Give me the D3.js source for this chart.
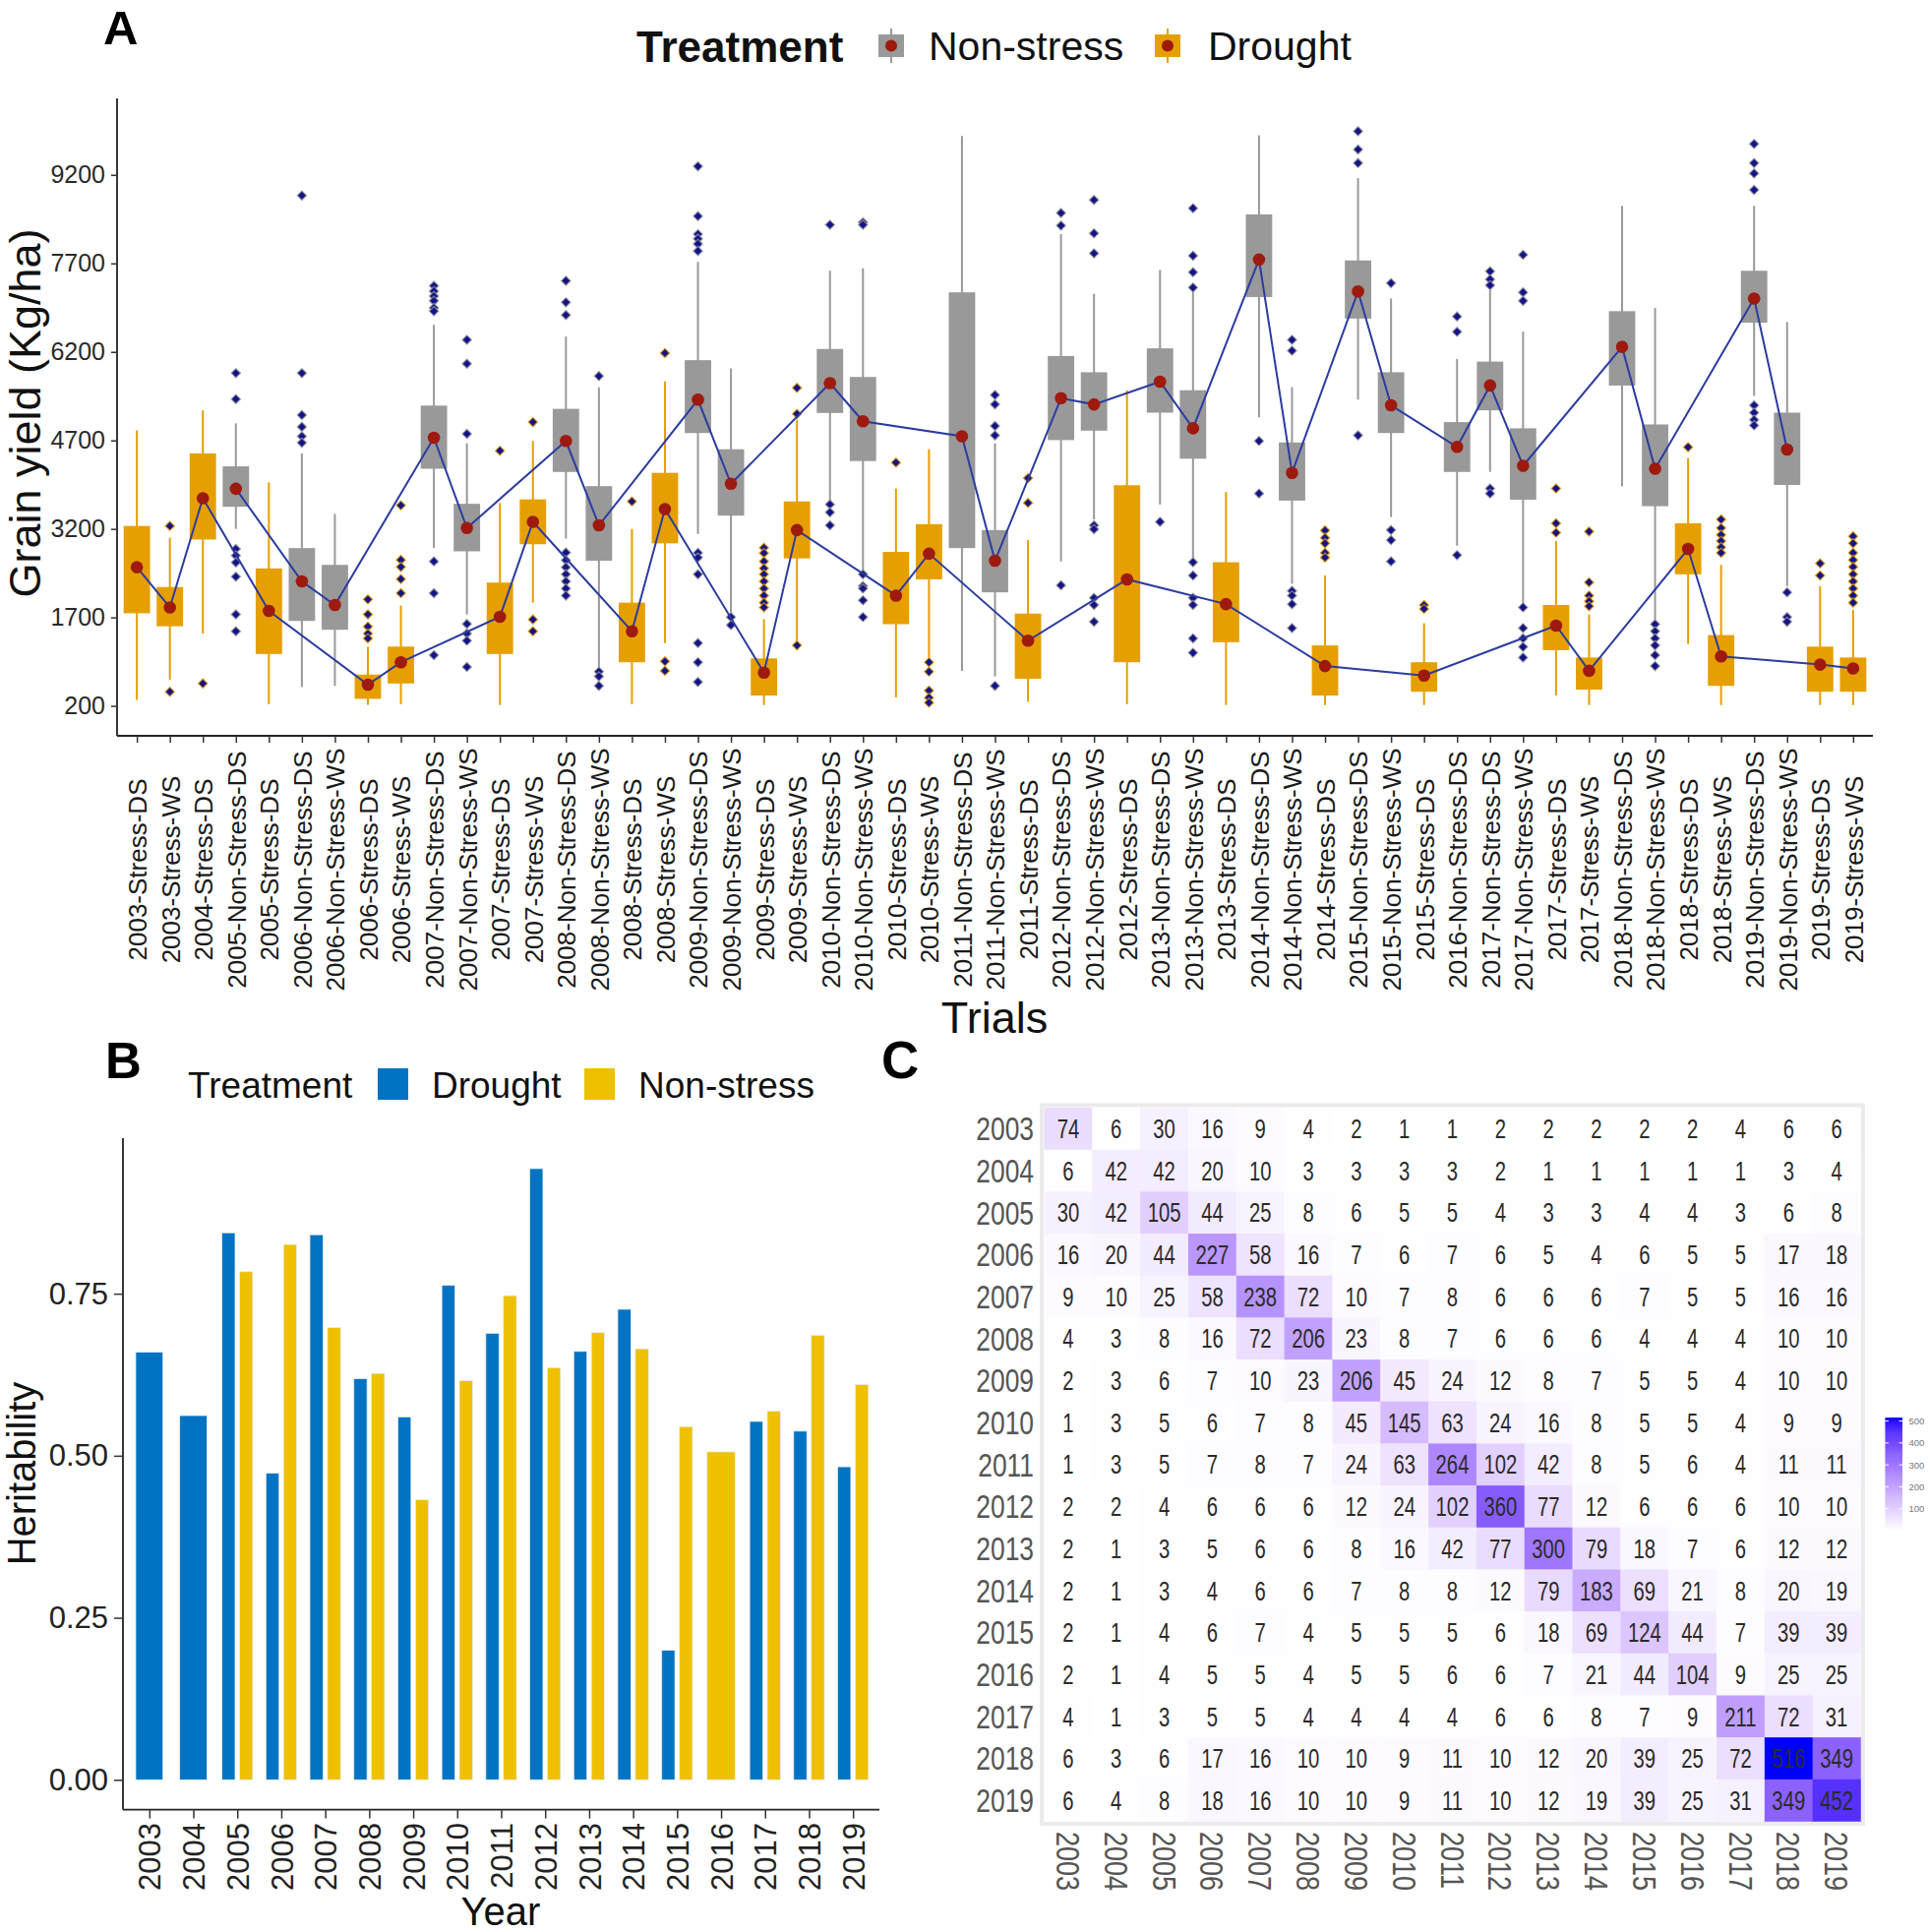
<!DOCTYPE html>
<html>
<head>
<meta charset="utf-8">
<script src="https://cdn.jsdelivr.net/npm/d3@7"></script>
<style>
  html, body { margin: 0; padding: 0; background: #fff; }
  svg { display: block; }
  text { font-family: "Liberation Sans", Arial, Helvetica, sans-serif; }
</style>
</head>
<body>
<svg id="chart" width="1960" height="1964"></svg>
<script>
// ---------------- Panel A data ----------------
const trials = [
  "2003-Stress-DS","2003-Stress-WS","2004-Stress-DS","2005-Non-Stress-DS","2005-Stress-DS",
  "2006-Non-Stress-DS","2006-Non-Stress-WS","2006-Stress-DS","2006-Stress-WS",
  "2007-Non-Stress-DS","2007-Non-Stress-WS","2007-Stress-DS","2007-Stress-WS",
  "2008-Non-Stress-DS","2008-Non-Stress-WS","2008-Stress-DS","2008-Stress-WS",
  "2009-Non-Stress-DS","2009-Non-Stress-WS","2009-Stress-DS","2009-Stress-WS",
  "2010-Non-Stress-DS","2010-Non-Stress-WS","2010-Stress-DS","2010-Stress-WS",
  "2011-Non-Stress-DS","2011-Non-Stress-WS","2011-Stress-DS",
  "2012-Non-Stress-DS","2012-Non-Stress-WS","2012-Stress-DS",
  "2013-Non-Stress-DS","2013-Non-Stress-WS","2013-Stress-DS",
  "2014-Non-Stress-DS","2014-Non-Stress-WS","2014-Stress-DS",
  "2015-Non-Stress-DS","2015-Non-Stress-WS","2015-Stress-DS",
  "2016-Non-Stress-DS",
  "2017-Non-Stress-DS","2017-Non-Stress-WS","2017-Stress-DS","2017-Stress-WS",
  "2018-Non-Stress-DS","2018-Non-Stress-WS","2018-Stress-DS","2018-Stress-WS",
  "2019-Non-Stress-DS","2019-Non-Stress-WS","2019-Stress-DS","2019-Stress-WS"
];
const whiskerLow  = [300,640,1425,3200,230, 520,540,220,230, 2875,1750,215,1950, 3035,820,230,1265, 3115,1750,215,1265, 3680,2470,340,1020, 795,700,270, 2650,3360,230, 3615,2675,215, 5090,2270,215, 5390,3400,215, 2915, 4165,1910,375,215, 3925,1665,1250,215, 5455,2230,215,215];
const q1          = [1770,1550,3020,3575,1080, 1640,1490,320,580, 4220,2820,1080,2940, 4165,2660,940,2955, 4825,3425,375,2700, 5165,4350,1585,2345, 2875,2125,660, 4705,4865,940, 5170,4390,1280, 7130,3680,375, 6765,4825,440, 4165, 5210,3695,1145,475, 5630,3585,2430,540, 6695,3945,440,440];
const q3          = [3250,2215,4480,4260,2530, 2875,2590,730,1205, 5290,3625,2290,3700, 5235,3925,1950,4150, 6060,4550,1005,3665, 6250,5775,2810,3280, 7210,3180,1765, 6130,5855,3940, 6260,5550,2635, 8530,4665,1225, 7750,5855,940, 5010, 6035,4905,1910,1020, 6890,4970,3295,1400, 7575,5170,1205,1020];
const whiskerHigh = [4870,3050,5210,4990,3990, 4480,3455,1200,1900, 6660,4650,3640,4690, 6460,5600,3200,5700, 7725,5920,1670,5050, 7575,7615,3885,4550, 9860,4650,3010, 8195,7185,5550, 7590,7225,3825, 9870,5600,2410, 9145,7105,1600, 6080, 7250,6540,2995,1750, 8675,6945,4400,2590, 8675,6705,2230,1830];
const meanYield   = [2550,1870,3720,3880,1810, 2310,1910,560,940, 4745,3215,1710,3320, 4690,3260,1465,3535, 5390,3965,765,3180, 5670,5025,2070,2780, 4770,2660,1305, 5415,5310,2345, 5695,4905,1925, 7765,4150,875, 7225,5295,715, 4590, 5630,4270,1560,795, 6285,4220,2860,1040, 7105,4545,900,835];
const outliers = [
  [], [3250,440], [580], [5840,5400,2860,2750,2630,2390,1750,1465], [],
  [8850,5840,5130,4930,4770,4660], [], [2005,1750,1545,1425,1345], [3600,2675,2555,2350,2110],
  [7320,7230,7145,7065,6945,6890,2650,2110,1060], [6405,6000,4810,1590,1425,1305,860], [4525], [5010,1665,1465],
  [7405,7040,6825,2800,2670,2550,2430,2310,2190,2070], [5790,780,700,540], [3665], [6180,955,795],
  [9345,8500,8195,8115,8030,7910,2795,2715,2430,1265,940,605], [1705,1570], [2880,2790,2650,2530,2430,2310,2190,2070,1950,1870], [5590,5150,1225],
  [8355,3615,3480,3260], [8395,8355,2430,2230,2190,1990,1705], [4325], [940,780,460,340,255],
  [], [5470,5310,4945,4785,540], [4060,3640],
  [8555,8340,2245], [8775,8210,7870,3260,3195,2030,1910,1625], [],
  [3320], [8635,7830,7550,7290,2635,2410,2030,1910,1345,1100], [],
  [4690,3800], [6405,6220,2150,2070,1925,1520], [3175,3050,2955,2795,2715],
  [9940,9630,9400,4785], [7365,3180,3010,2650], [1910,1845],
  [6800,6540,2755],
  [7565,7430,7330,3885,3800], [7845,7210,7065,1870,1520,1345,1200,1020], [3885,3295,3135], [3155,2295,2070,1975,1890],
  [], [1585,1465,1345,1225,1060,875], [4585], [3360,3215,3100,2995,2890,2795],
  [9725,9400,9225,8945,5295,5170,5050,4955], [2125,1705,1625], [2615,2410], [3075,2955,2795,2675,2555,2430,2310,2190,2070,1950]
];
const yTicksA = [200,1700,3200,4700,6200,7700,9200];
const groupsA = ["Non-stress","Drought"];

// ---------------- Panel B data ----------------
const years = ["2003","2004","2005","2006","2007","2008","2009","2010","2011","2012","2013","2014","2015","2016","2017","2018","2019"];
const droughtH2   = [0.660,0.562,0.844,0.473,0.841,0.619,0.560,0.763,0.689,0.943,0.661,0.726,0.200,null,0.553,0.538,0.483];
const nonStressH2 = [null,null,0.784,0.826,0.698,0.627,0.432,0.616,0.747,0.636,0.690,0.665,0.545,0.506,0.569,0.686,0.610];
const yTicksB = [0, 0.25, 0.5, 0.75];
const groupsB = ["Drought","Non-stress"];

// ---------------- Panel C data ----------------
const heatYears = ["2003","2004","2005","2006","2007","2008","2009","2010","2011","2012","2013","2014","2015","2016","2017","2018","2019"];
const sharedLines = [
  [74,6,30,16,9,4,2,1,1,2,2,2,2,2,4,6,6],
  [6,42,42,20,10,3,3,3,3,2,1,1,1,1,1,3,4],
  [30,42,105,44,25,8,6,5,5,4,3,3,4,4,3,6,8],
  [16,20,44,227,58,16,7,6,7,6,5,4,6,5,5,17,18],
  [9,10,25,58,238,72,10,7,8,6,6,6,7,5,5,16,16],
  [4,3,8,16,72,206,23,8,7,6,6,6,4,4,4,10,10],
  [2,3,6,7,10,23,206,45,24,12,8,7,5,5,4,10,10],
  [1,3,5,6,7,8,45,145,63,24,16,8,5,5,4,9,9],
  [1,3,5,7,8,7,24,63,264,102,42,8,5,6,4,11,11],
  [2,2,4,6,6,6,12,24,102,360,77,12,6,6,6,10,10],
  [2,1,3,5,6,6,8,16,42,77,300,79,18,7,6,12,12],
  [2,1,3,4,6,6,7,8,8,12,79,183,69,21,8,20,19],
  [2,1,4,6,7,4,5,5,5,6,18,69,124,44,7,39,39],
  [2,1,4,5,5,4,5,5,6,6,7,21,44,104,9,25,25],
  [4,1,3,5,5,4,4,4,4,6,6,8,7,9,211,72,31],
  [6,3,6,17,16,10,10,9,11,10,12,20,39,25,72,516,349],
  [6,4,8,18,16,10,10,9,11,10,12,19,39,25,31,349,452]
];
const legendTicksC = [100,200,300,400,500];

// ---------------- Drawing ----------------
const svg = d3.select("#chart");
svg.append("rect").attr("width",1960).attr("height",1964).attr("fill","#fff");

const colA = {"Non-stress":"#999999","Drought":"#E69F00"};
const dotColor = "#9E1A0E", lineColor = "#2B3BA0", outColor = "#141488";

// ===== Panel A =====
const xA = d3.scalePoint().domain(trials).range([119, 1904]).padding(0.6);
const yA = d3.scaleLinear().domain([-307, 10497]).range([748, 100]);
const groupOf = t => t.includes("Non-Stress") ? "Non-stress" : "Drought";
const boxW = xA.step() * 0.8;
const rows = trials.map((t,i) => ({t, g: groupOf(t), wl: whiskerLow[i], q1: q1[i], q3: q3[i], wh: whiskerHigh[i], m: meanYield[i], out: outliers[i]}));

const gA = svg.append("g");
gA.selectAll("line.wh").data(rows).join("line")
  .attr("x1", d => xA(d.t)).attr("x2", d => xA(d.t))
  .attr("y1", d => yA(d.wl)).attr("y2", d => yA(d.wh))
  .attr("stroke", d => colA[d.g]).attr("stroke-width", 2);
gA.selectAll("rect.box").data(rows).join("rect")
  .attr("x", d => xA(d.t) - boxW/2).attr("width", boxW)
  .attr("y", d => yA(d.q3)).attr("height", d => yA(d.q1) - yA(d.q3))
  .attr("fill", d => colA[d.g]);
const outPts = rows.flatMap(d => d.out.map(v => ({t: d.t, g: d.g, v})));
const diamond = d3.symbol().type(d3.symbolSquare).size(44);
gA.selectAll("path.out").data(outPts).join("path")
  .attr("d", diamond)
  .attr("transform", d => `translate(${xA(d.t)},${yA(d.v)}) rotate(45)`)
  .attr("fill", outColor).attr("stroke", d => colA[d.g]).attr("stroke-width", 1.2).attr("stroke-opacity", 0.8);
const lineGen = d3.line().x(d => xA(d.t)).y(d => yA(d.m));
groupsA.forEach(g => {
  gA.append("path").datum(rows.filter(d => d.g === g))
    .attr("d", lineGen).attr("fill","none").attr("stroke", lineColor).attr("stroke-width", 2);
});
gA.selectAll("circle.dot").data(rows).join("circle")
  .attr("cx", d => xA(d.t)).attr("cy", d => yA(d.m)).attr("r", 6.3)
  .attr("fill", dotColor);

const axYA = svg.append("g").attr("transform","translate(119,0)")
  .call(d3.axisLeft(yA).tickValues(yTicksA).tickSize(6).tickPadding(6).tickFormat(d3.format("d")));
axYA.select(".domain").attr("stroke","#222").attr("stroke-width",1.8).attr("d","M0,100V748");
axYA.selectAll(".tick line").attr("stroke","#333").attr("stroke-width",1.5);
axYA.selectAll(".tick text").attr("font-size",25).attr("fill","#2a2a2a").attr("font-family","Liberation Sans, Arial, sans-serif");

const axXA = svg.append("g").attr("transform","translate(0,748)")
  .call(d3.axisBottom(xA).tickSize(7));
axXA.select(".domain").attr("stroke","#222").attr("stroke-width",1.8).attr("d","M119,0H1904");
axXA.selectAll(".tick line").attr("stroke","#333").attr("stroke-width",1.5);
axXA.selectAll(".tick text").attr("font-size",26).attr("fill","#1a1a1a")
  .attr("font-family","Liberation Sans, Arial, sans-serif")
  .attr("x",0).attr("y",0).attr("dy","0.36em").attr("text-anchor","middle")
  .attr("transform","translate(0,136) rotate(-90)");

svg.append("text").attr("x",1011).attr("y",1050).attr("text-anchor","middle")
  .attr("font-size",45).attr("fill","#111").text("Trials");
svg.append("text").attr("transform","translate(41,420) rotate(-90)").attr("text-anchor","middle")
  .attr("font-size",45).attr("fill","#111").text("Grain yield (Kg/ha)");
svg.append("text").attr("x",105).attr("y",44.5).attr("font-size",49).attr("font-weight","bold").text("A");

svg.append("text").attr("x",647).attr("y",63).attr("font-size",44).attr("font-weight","bold").attr("fill","#111").text("Treatment");
const legA = [{g:"Non-stress", kx:893, tx:944},{g:"Drought", kx:1174, tx:1228}];
legA.forEach(l => {
  const k = svg.append("g");
  k.append("line").attr("x1",l.kx+13).attr("x2",l.kx+13).attr("y1",29).attr("y2",64).attr("stroke",colA[l.g]).attr("stroke-width",2);
  k.append("rect").attr("x",l.kx).attr("y",35).attr("width",26).attr("height",23).attr("fill",colA[l.g]);
  k.append("circle").attr("cx",l.kx+13).attr("cy",46.5).attr("r",6).attr("fill",dotColor);
  svg.append("text").attr("x",l.tx).attr("y",61).attr("font-size",41).attr("fill","#111").text(l.g);
});

// ===== Panel B =====
const colB = {"Drought":"#0073C2","Non-stress":"#EFC000"};
const xB = d3.scalePoint().domain(years).range([125, 894]).padding(0.6);
const yB = d3.scaleLinear().domain([-0.046, 0.99]).range([1839.6, 1157]);
const stepB = xB.step();
const bars = [];
years.forEach((y,i) => {
  const d = droughtH2[i], n = nonStressH2[i];
  if (d != null && n != null) {
    bars.push({y, g:"Drought", v:d, off:-0.2, w:0.3});
    bars.push({y, g:"Non-stress", v:n, off:0.2, w:0.3});
  } else if (d != null) {
    bars.push({y, g:"Drought", v:d, off:0, w:0.62});
  } else if (n != null) {
    bars.push({y, g:"Non-stress", v:n, off:0, w:0.64});
  }
});
svg.append("g").selectAll("rect").data(bars).join("rect")
  .attr("x", d => xB(d.y) + d.off*stepB - d.w*stepB/2)
  .attr("width", d => d.w*stepB)
  .attr("y", d => yB(d.v)).attr("height", d => yB(0) - yB(d.v))
  .attr("fill", d => colB[d.g]).attr("stroke","#e8eef5").attr("stroke-width",0.8);

const axYB = svg.append("g").attr("transform","translate(125,0)")
  .call(d3.axisLeft(yB).tickValues(yTicksB).tickSize(9).tickPadding(6).tickFormat(d3.format(".2f")));
axYB.select(".domain").attr("stroke","#222").attr("stroke-width",1.8).attr("d","M0,1157V1839.6");
axYB.selectAll(".tick line").attr("stroke","#333").attr("stroke-width",1.5);
axYB.selectAll(".tick text").attr("font-size",31).attr("fill","#222").attr("font-family","Liberation Sans, Arial, sans-serif");

const axXB = svg.append("g").attr("transform","translate(0,1839.6)")
  .call(d3.axisBottom(xB).tickSize(9));
axXB.select(".domain").attr("stroke","#222").attr("stroke-width",1.8).attr("d","M125,0H894");
axXB.selectAll(".tick line").attr("stroke","#333").attr("stroke-width",1.5);
axXB.selectAll(".tick text").attr("font-size",31).attr("fill","#222")
  .attr("font-family","Liberation Sans, Arial, sans-serif")
  .attr("x",0).attr("y",0).attr("dy","0.36em").attr("text-anchor","end")
  .attr("transform","translate(0,13.5) rotate(-90)");

svg.append("text").attr("x",509).attr("y",1957).attr("text-anchor","middle").attr("font-size",40).attr("fill","#111").text("Year");
svg.append("text").attr("transform","translate(36,1498) rotate(-90)").attr("text-anchor","middle").attr("font-size",40).attr("fill","#111").text("Heritability");
svg.append("text").attr("x",107).attr("y",1096).attr("font-size",51).attr("font-weight","bold").text("B");

svg.append("text").attr("x",191).attr("y",1116).attr("font-size",37).attr("fill","#111").text("Treatment");
const legB = [{g:"Drought", kx:384, tx:439},{g:"Non-stress", kx:594, tx:649}];
legB.forEach(l => {
  svg.append("rect").attr("x",l.kx).attr("y",1086).attr("width",31).attr("height",32).attr("fill",colB[l.g]);
  svg.append("text").attr("x",l.tx).attr("y",1116).attr("font-size",37).attr("fill","#111").text(l.g);
});

// ===== Panel C =====
const xC = d3.scaleBand().domain(heatYears).range([1061.5, 1891.5]);
const yC = d3.scaleBand().domain(heatYears).range([1126, 1851.5]);
const maxC = d3.max(sharedLines.flat()), minC = d3.min(sharedLines.flat());
const cC = d3.scaleLinear().domain([minC, maxC]).range(["#FFFFFF","#0000FF"]).interpolate(d3.interpolateLab);
const cells = [];
sharedLines.forEach((row, r) => row.forEach((v, c) => cells.push({r: heatYears[r], c: heatYears[c], v})));

svg.append("rect").attr("x",1059).attr("y",1123.5).attr("width",835).attr("height",730.5)
  .attr("fill","#fff").attr("stroke","#EBEBEB").attr("stroke-width",4);
const gC = svg.append("g");
gC.selectAll("rect").data(cells).join("rect")
  .attr("x", d => xC(d.c)).attr("y", d => yC(d.r))
  .attr("width", xC.bandwidth()+0.3).attr("height", yC.bandwidth()+0.3)
  .attr("fill", d => cC(d.v));
gC.selectAll("text").data(cells).join("text")
  .attr("transform", d => `translate(${xC(d.c)+xC.bandwidth()/2},${yC(d.r)+yC.bandwidth()/2}) scale(0.75,1)`)
  .attr("text-anchor","middle").attr("dy","0.36em")
  .attr("font-size",27).attr("fill","#2a2a2a").text(d => d.v);

svg.append("g").selectAll("text").data(heatYears).join("text")
  .attr("transform", d => `translate(1051,${yC(d)+yC.bandwidth()/2}) scale(0.8,1)`)
  .attr("text-anchor","end").attr("dy","0.36em").attr("font-size",33).attr("fill","#555").text(d => d);
svg.append("g").selectAll("text").data(heatYears).join("text")
  .attr("transform", d => `translate(${xC(d)+xC.bandwidth()/2},1862) rotate(90) scale(0.82,1)`)
  .attr("text-anchor","start").attr("dy","0.36em").attr("font-size",33).attr("fill","#555").text(d => d);
svg.append("text").attr("x",896).attr("y",1096).attr("font-size",53).attr("font-weight","bold").text("C");

const lgY = d3.scaleLinear().domain([minC, maxC]).range([1555.7, 1441]);
const steps = d3.range(0, 60);
const stepV = (maxC - minC) / 60;
svg.append("g").selectAll("rect").data(steps).join("rect")
  .attr("x",1916.5).attr("width",17.5)
  .attr("y", i => lgY(minC + (i+1)*stepV)).attr("height", i => lgY(minC + i*stepV) - lgY(minC + (i+1)*stepV) + 0.5)
  .attr("fill", i => cC(minC + (i+0.5)*stepV));
const lgT = svg.append("g");
legendTicksC.forEach(v => {
  lgT.append("line").attr("x1",1916.5).attr("x2",1920).attr("y1",lgY(v)).attr("y2",lgY(v)).attr("stroke","#fff").attr("stroke-width",1);
  lgT.append("line").attr("x1",1930.5).attr("x2",1934).attr("y1",lgY(v)).attr("y2",lgY(v)).attr("stroke","#fff").attr("stroke-width",1);
  lgT.append("text").attr("x",1940.5).attr("y",lgY(v)).attr("dy","0.36em").attr("font-size",9.5).attr("fill","#777").text(v);
});
</script>
</body>
</html>
